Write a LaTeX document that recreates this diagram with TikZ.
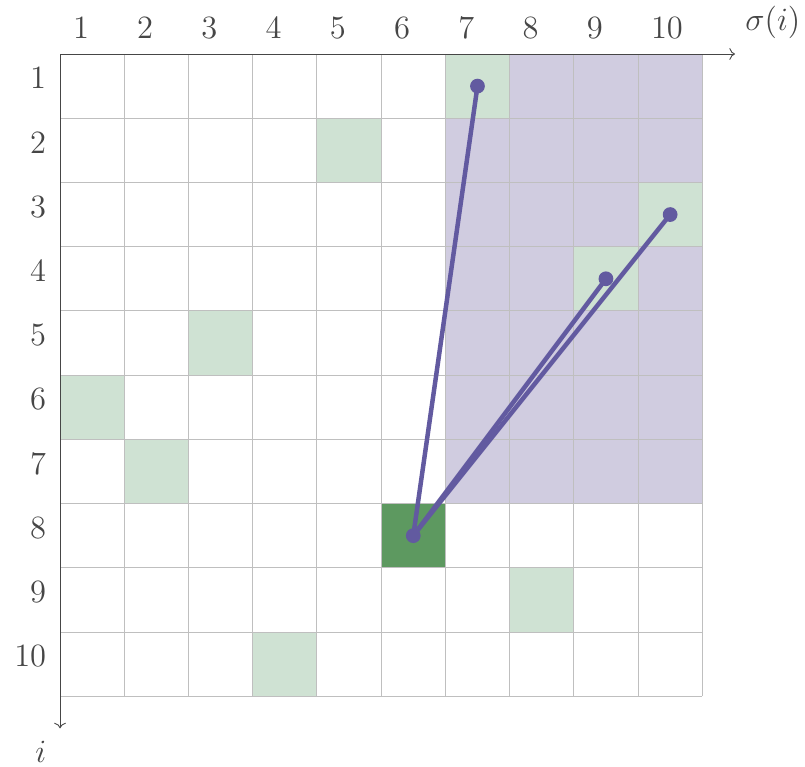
\documentclass[tikz,border=0pt]{standalone}
\usepackage{xcolor}
\usepackage{tikz}
\usetikzlibrary{arrows.meta,calc,positioning}

\definecolor{permgreen}{RGB}{207,226,211}
\definecolor{pivotgreen}{RGB}{93,153,96}
\definecolor{regionpurple}{RGB}{208,204,224}
\definecolor{linkpurple}{RGB}{98,90,160}
\definecolor{axisgray}{RGB}{70,70,70}

\begin{document}
\begin{tikzpicture}[x=1cm, y=1cm, every node/.style={font=\Large, text=axisgray}]
  \useasboundingbox (-0.935,0.841) rectangle (11.60,-11.09);
  \fill[regionpurple] (6,0) rectangle (10,-7);
  \foreach \i/\s in {1/7,2/5,3/10,4/9,5/3,6/1,7/2,9/8,10/4} { \fill[permgreen] (\s-1,-\i+1) rectangle (\s,-\i); }
  \fill[pivotgreen] (5,-7) rectangle (6,-8);
  \draw[gray!50] (0,-10) grid (10,0);
  \draw[axisgray, -{To}] (0,0) -- (10.51,0);
  \draw[axisgray, -{To}] (0,0) -- (0,-10.5);
  \foreach \j in {1,...,10} { \node[anchor=west, inner sep=0] (col\j) at (\j-0.805,0.40) {$\j$}; }
  \foreach \i in {1,...,10} { \node[anchor=east, inner sep=0] (row\i) at (-0.21,-\i+0.62) {$\i$}; }
  \node (sigma) at (11.1,0.5) {$\sigma(i)$};
  \node (ilabel) at (-0.3,-10.87) {$i$};
  \coordinate (p8) at (5.5,-7.5);
  \coordinate (p1) at (6.5,-0.5);
  \coordinate (p4) at (8.5,-3.5);
  \coordinate (p3) at (9.5,-2.5);
  \foreach \q in {p1,p4,p3} { \draw[linkpurple, line width=2pt] (p8) -- (\q); }
  \foreach \q in {p8,p1,p4,p3} { \fill[linkpurple] (\q) circle (0.115); }
\end{tikzpicture}
\end{document}
